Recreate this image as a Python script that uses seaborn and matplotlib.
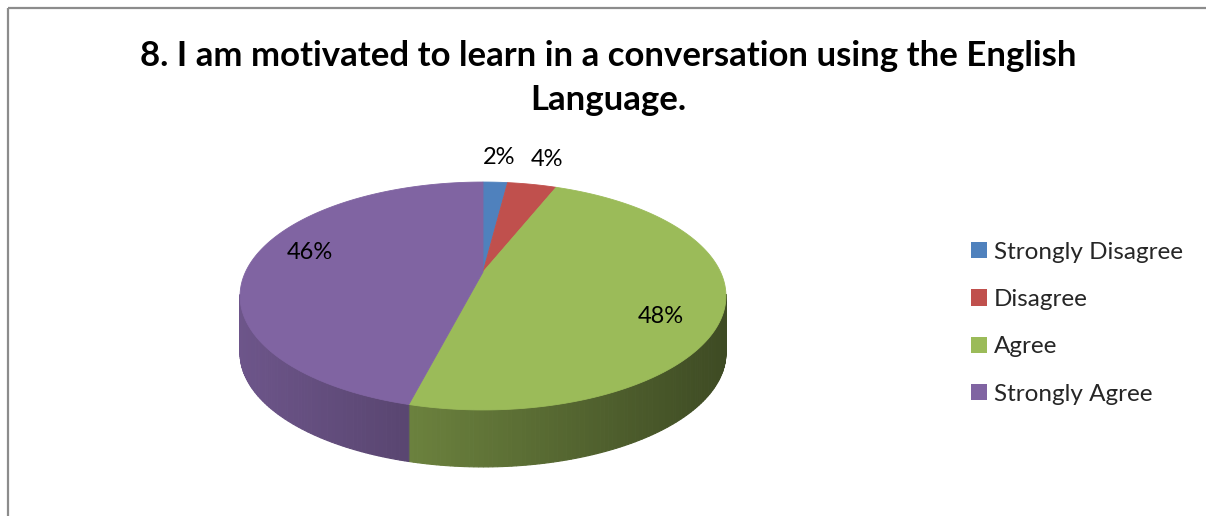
import numpy as np
import matplotlib
matplotlib.use('Agg')
import matplotlib.pyplot as plt
from matplotlib.patches import Polygon, Rectangle, Patch
import seaborn as sns

# Data
categories = ['Strongly Disagree', 'Disagree', 'Agree', 'Strongly Agree']
values = [2, 4, 48, 46]
colors = ['#4f81bd', '#c0504d', '#9bbb59', '#8064a2']
title = '8. I am motivated to learn in a conversation using the English\nLanguage.'

sns.set_theme(style='white')
plt.rcParams['font.family'] = ['Lato', 'DejaVu Sans']

# 3D pie geometry (pixels): centre, radii, perspective, thickness
cx, cy = 483, 272
A, B, k = 237.5, 108.9, 0.2105
depth = 57


def project(theta, r=1.0):
    u = r * np.sin(theta)
    w = r * np.cos(theta)
    d = 1 + k * w
    return cx + A * u / d, cy - B * w / d


def shade(rgb, x):
    f = np.clip(0.85 - 0.45 * (x - 240) / 485, 0.35, 1.0)
    return tuple(np.array(rgb) * f)


fig = plt.figure(figsize=(12.06, 5.16), dpi=100)
ax = fig.add_axes([0, 0, 1, 1])
ax.set_xlim(0, 1206)
ax.set_ylim(516, 0)
ax.axis('off')

# chart border (runs off the right and bottom)
ax.add_patch(Rectangle((8, 8), 1250, 560, fill=False, edgecolor='#8c8c8c', lw=1.6))

total = float(sum(values))
bounds = np.concatenate([[0], np.cumsum(values)]) / total * 2 * np.pi

# sides first (only the front, visible part)
for i, col in enumerate(colors):
    rgb = matplotlib.colors.to_rgb(col)
    t = np.linspace(bounds[i], bounds[i + 1], max(3, int(values[i] * 4)))
    for t1, t2 in zip(t[:-1], t[1:]):
        if np.cos((t1 + t2) / 2) > -k + 0.02:
            continue
        x1, y1 = project(t1)
        x2, y2 = project(t2)
        c = shade(rgb, (x1 + x2) / 2)
        ax.add_patch(Polygon([(x1, y1), (x2, y2), (x2, y2 + depth), (x1, y1 + depth)],
                             closed=True, facecolor=c, edgecolor=c, lw=0.8))

# top faces
for i, col in enumerate(colors):
    t = np.linspace(bounds[i], bounds[i + 1], max(3, int(values[i] * 8)))
    xs, ys = project(t)
    pts = [(cx, cy)] + list(zip(xs, ys))
    ax.add_patch(Polygon(pts, closed=True, facecolor=col, edgecolor=col, lw=0.6))

# data labels
for i, v in enumerate(values):
    mid = (bounds[i] + bounds[i + 1]) / 2
    if v < 10:
        x, y = project(mid, 1.0)
        x = cx + (x - cx) * 1.3
        y -= 25
    else:
        x, y = project(mid, 0.75)
        y += -9 if np.cos(mid) > 0 else 18
    ax.text(x, y, f'{v}%', ha='center', va='center', fontsize=17, color='black')

ax.text(608, 78, title, ha='center', va='center', fontsize=25, fontweight='bold',
        color='black', linespacing=1.5)

handles = [Patch(facecolor=c, edgecolor='none') for c in colors]
leg = ax.legend(handles, categories, loc='upper left', bbox_to_anchor=(949 / 1206, 1 - 220 / 516),
                bbox_transform=fig.transFigure, frameon=False, fontsize=17.5,
                handlelength=0.65, handleheight=0.65, handletextpad=0.3, labelspacing=1.08)

fig.savefig('out.png', dpi=100, facecolor='white')
